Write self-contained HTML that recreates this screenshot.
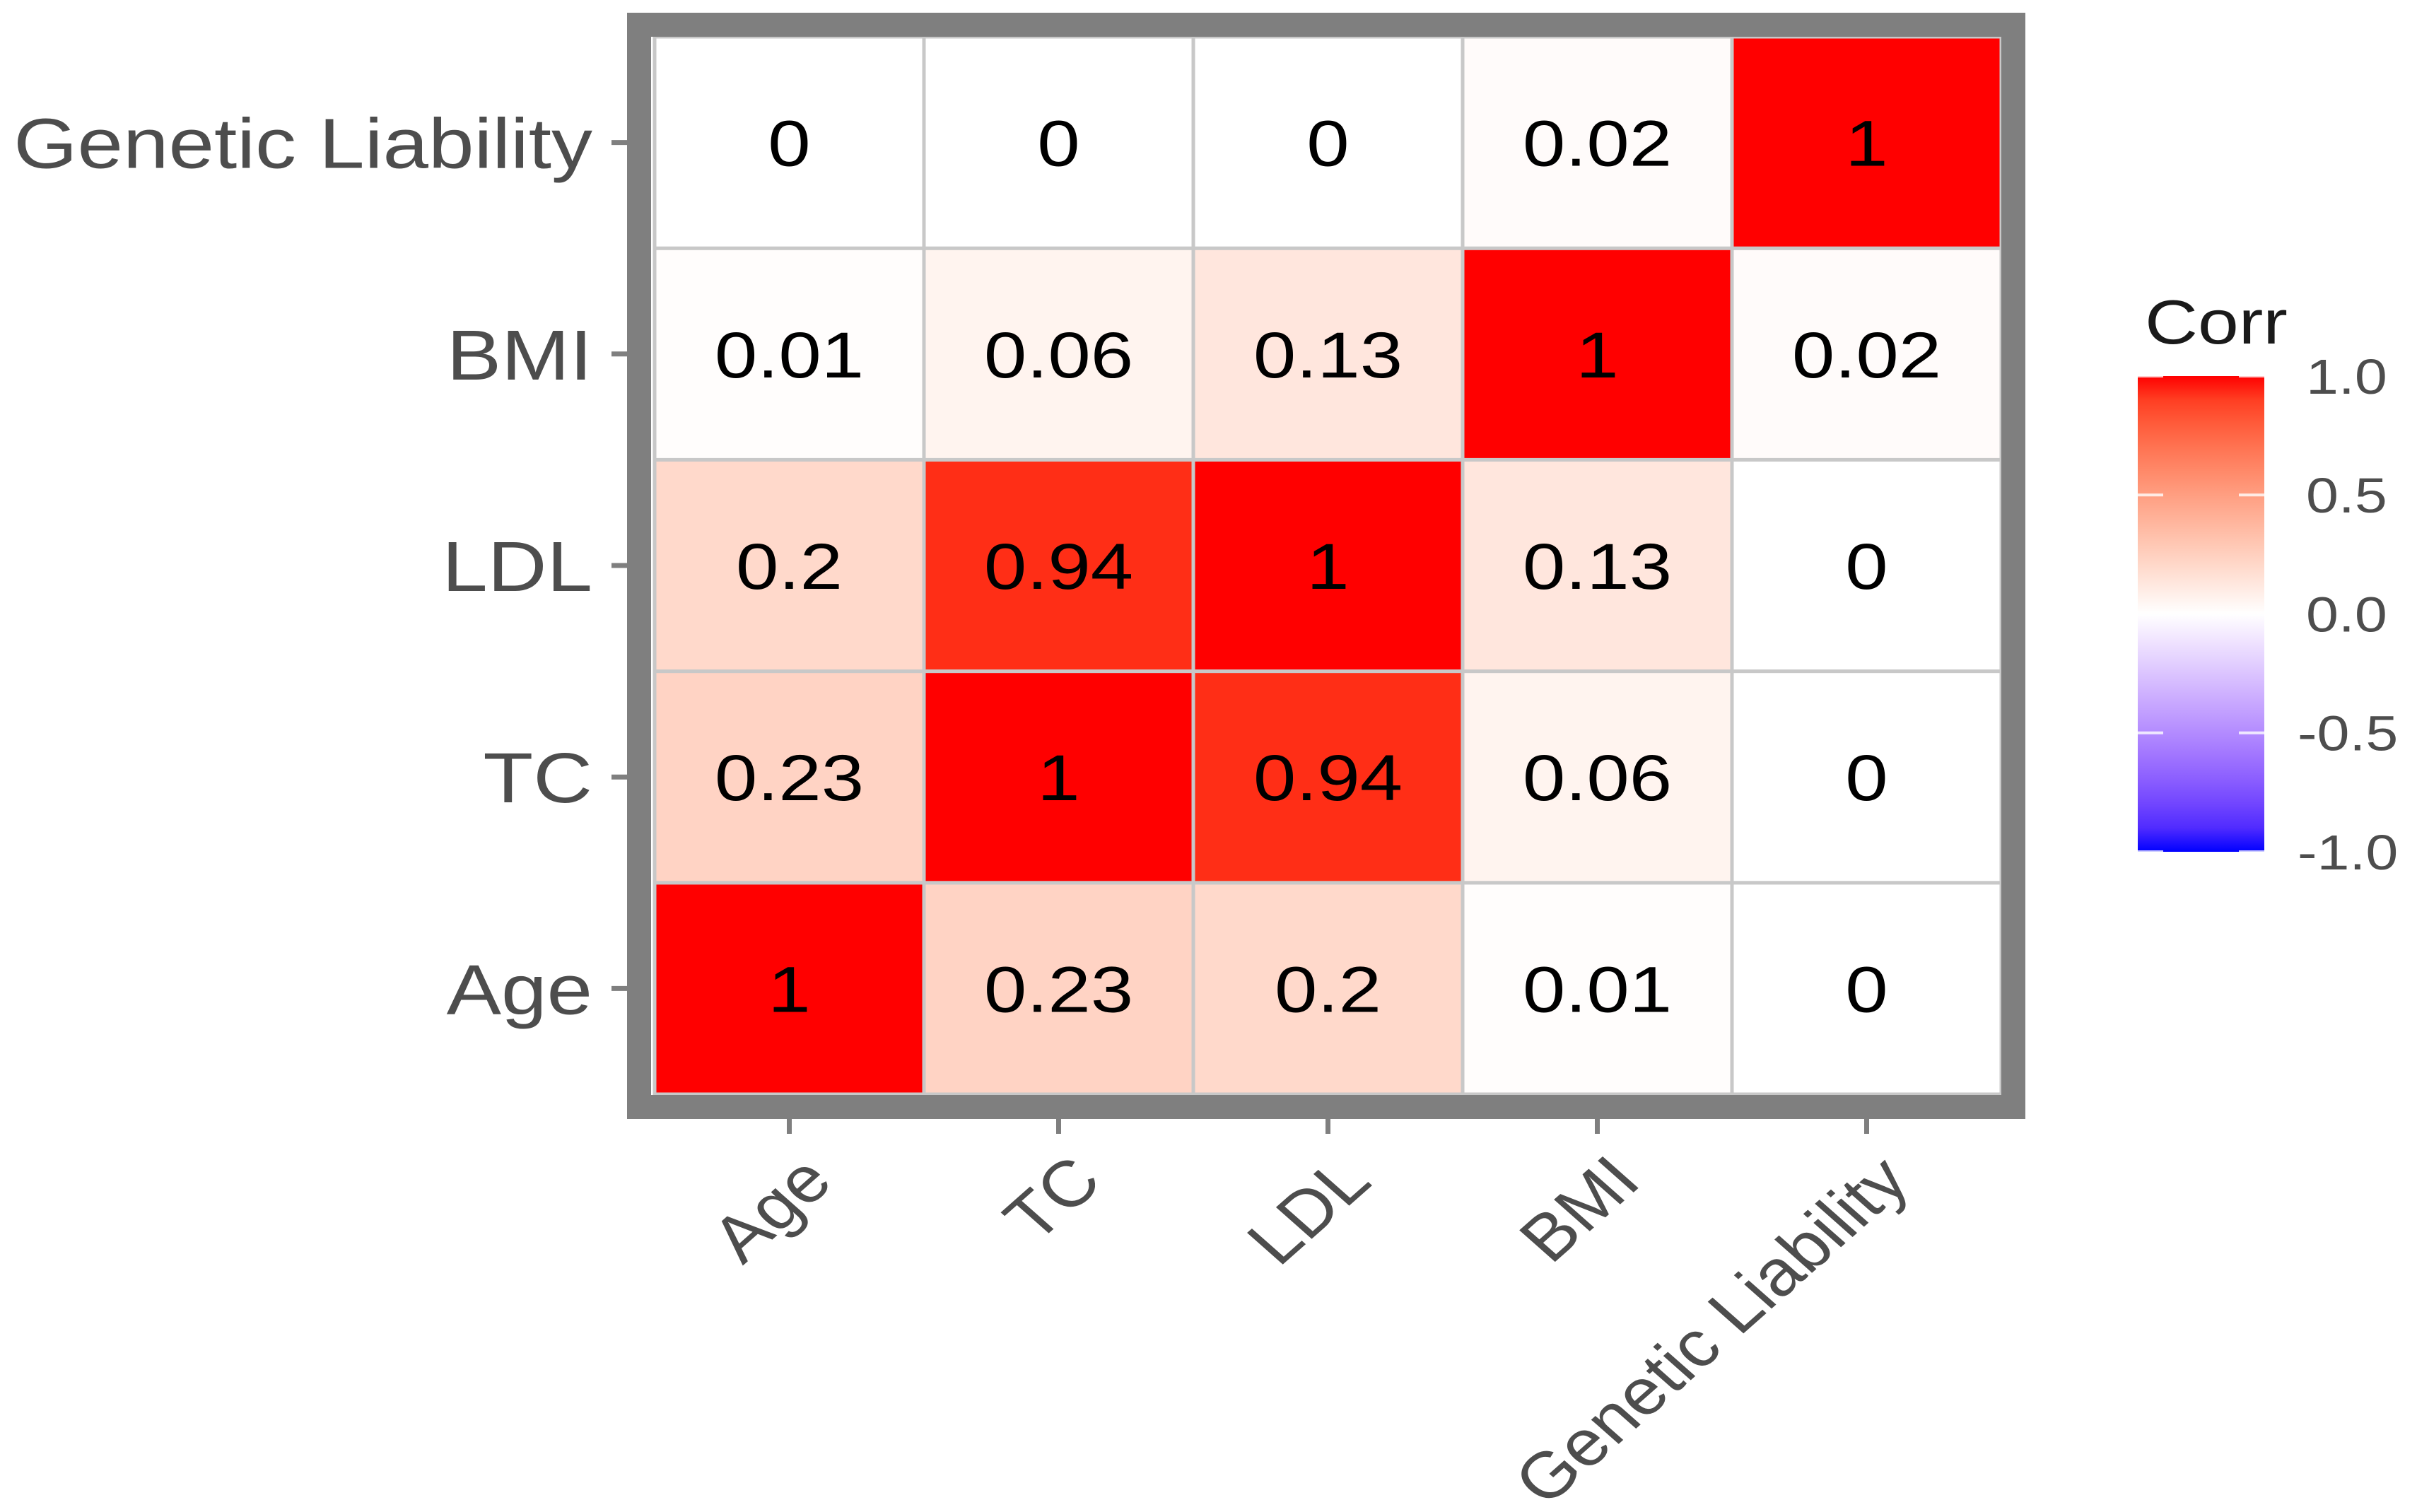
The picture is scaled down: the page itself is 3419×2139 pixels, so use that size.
<!DOCTYPE html>
<html><head><meta charset="utf-8"><style>
html,body{margin:0;padding:0;background:#fff;}
svg{display:block;}
text{font-family:"Liberation Sans",sans-serif;}
</style></head>
<body>
<svg id="chart" width="3419" height="2139" viewBox="0 0 3419 2139" xmlns="http://www.w3.org/2000/svg">
<defs><linearGradient id="cbar" x1="0" y1="1" x2="0" y2="0"></linearGradient></defs>
<rect x="0" y="0" width="3419" height="2139" fill="#fff"/>
<g id="tiles"></g>
<rect x="904" y="35" width="1944" height="1531" fill="none" stroke="#7f7f7f" stroke-width="34"/>
<g id="axes"></g>
<g id="legend">
<text x="3034" y="486" font-size="88" fill="#1a1a1a" transform="translate(3034,0) scale(1.18,1) translate(-3034,0)">Corr</text>
<rect x="3024" y="532" width="179" height="673" fill="url(#cbar)"/>
</g>
</svg>
<script>
const categories = ["Age", "TC", "LDL", "BMI", "Genetic Liability"];
const rowAge = [1, 0.23, 0.2, 0.01, 0];
const rowTC = [0.23, 1, 0.94, 0.06, 0];
const rowLDL = [0.2, 0.94, 1, 0.13, 0];
const rowBMI = [0.01, 0.06, 0.13, 1, 0.02];
const rowGL = [0, 0, 0, 0.02, 1];
const legendTicks = [1.0, 0.5, 0.0, -0.5, -1.0];
const legendTickLabels = ["1.0", "0.5", "0.0", "-0.5", "-1.0"];

const NS = "http://www.w3.org/2000/svg";
const rows = [rowAge, rowTC, rowLDL, rowBMI, rowGL];
const X0 = 926, X1 = 2831, Y0 = 52, Y1 = 1548;
const n = categories.length;
const cw = (X1 - X0) / n, ch = (Y1 - Y0) / n;
const xPos = i => X0 + i * cw;
const yPos = j => Y1 - (j + 1) * ch;
const legendY = v => 532 + (1 - v) / 2 * 673;

function lab2rgb(L, a, b) {
  let y = (L + 16) / 116, x = a / 500 + y, z = y - b / 200;
  const f = t => t * t * t > 0.008856 ? t * t * t : (t - 16 / 116) / 7.787;
  x = 0.95047 * f(x); y = f(y); z = 1.08883 * f(z);
  let r = x * 3.2406 + y * -1.5372 + z * -0.4986;
  let g = x * -0.9689 + y * 1.8758 + z * 0.0415;
  let bb = x * 0.0557 + y * -0.2040 + z * 1.0570;
  const gam = c => { c = c > 0.0031308 ? 1.055 * Math.pow(c, 1 / 2.4) - 0.055 : 12.92 * c; return Math.round(Math.max(0, Math.min(1, c)) * 255); };
  return "rgb(" + gam(r) + "," + gam(g) + "," + gam(bb) + ")";
}
function colorFor(v) {
  const W = [100, 0, 0], R = [53.24, 80.09, 67.2], B = [32.3, 79.19, -107.86];
  const t = Math.abs(v), E = v >= 0 ? R : B;
  return lab2rgb(W[0] + (E[0] - W[0]) * t, W[1] + (E[1] - W[1]) * t, W[2] + (E[2] - W[2]) * t);
}

const tiles = document.getElementById("tiles");
rows.forEach((row, j) => {
  row.forEach((v, i) => {
    const r = document.createElementNS(NS, "rect");
    r.setAttribute("x", xPos(i)); r.setAttribute("y", yPos(j));
    r.setAttribute("width", cw); r.setAttribute("height", ch);
    r.setAttribute("fill", colorFor(v));
    r.setAttribute("stroke", "#c8c8c8"); r.setAttribute("stroke-width", "5");
    
    
    tiles.appendChild(r);
    const cx = xPos(i) + cw / 2, cy = yPos(j) + ch / 2 + 33;
    const t = document.createElementNS(NS, "text");
    t.setAttribute("x", cx); t.setAttribute("y", cy);
    t.setAttribute("text-anchor", "middle"); t.setAttribute("font-size", "92");
    t.setAttribute("fill", "#000");
    t.setAttribute("transform", "translate(" + cx + ",0) scale(1.18,1) translate(" + (-cx) + ",0)");
    t.textContent = String(v);
    
    
    tiles.appendChild(t);
  });
});

const axes = document.getElementById("axes");
categories.forEach((c, k) => {
  const yc = yPos(k) + ch / 2;
  const tk = document.createElementNS(NS, "line");
  tk.setAttribute("x1", 865); tk.setAttribute("x2", 890); tk.setAttribute("y1", yc); tk.setAttribute("y2", yc);
  tk.setAttribute("stroke", "#7f7f7f"); tk.setAttribute("stroke-width", "7");
  
  
  axes.appendChild(tk);
  const yl = document.createElementNS(NS, "text");
  yl.setAttribute("x", 838); yl.setAttribute("y", yc + 36);
  yl.setAttribute("text-anchor", "end"); yl.setAttribute("font-size", "100"); yl.setAttribute("fill", "#4d4d4d");
  yl.setAttribute("transform", "translate(838,0) scale(1.16,1) translate(-838,0)");
  yl.textContent = c;
  
  
  axes.appendChild(yl);
  const xc = xPos(k) + cw / 2;
  const tx = document.createElementNS(NS, "line");
  tx.setAttribute("x1", xc); tx.setAttribute("x2", xc); tx.setAttribute("y1", 1580); tx.setAttribute("y2", 1604);
  tx.setAttribute("stroke", "#7f7f7f"); tx.setAttribute("stroke-width", "7");
  
  
  axes.appendChild(tx);
  const xl = document.createElementNS(NS, "text");
  xl.setAttribute("x", 0); xl.setAttribute("y", 0); xl.setAttribute("dy", "0.72em");
  xl.setAttribute("text-anchor", "end"); xl.setAttribute("font-size", "92"); xl.setAttribute("fill", "#4d4d4d");
  xl.setAttribute("transform", "translate(" + (xc + 12) + ",1628) scale(1.13,1) rotate(-45)");
  xl.textContent = c;
  
  
  axes.appendChild(xl);
});

const grad = document.getElementById("cbar");
for (let s = 0; s <= 20; s++) {
  const v = -1 + s / 10;
  const st = document.createElementNS(NS, "stop");
  st.setAttribute("offset", (s / 20));
  st.setAttribute("stop-color", colorFor(v));
  grad.appendChild(st);
}
const legend = document.getElementById("legend");
legendTicks.forEach((v, k) => {
  const y = legendY(v);
  [[3024, 3060], [3167, 3203]].forEach(p => {
    const l = document.createElementNS(NS, "line");
    l.setAttribute("x1", p[0]); l.setAttribute("x2", p[1]); l.setAttribute("y1", y); l.setAttribute("y2", y);
    l.setAttribute("stroke", "#fff"); l.setAttribute("stroke-width", "4"); l.setAttribute("opacity", "0.8");
    
    
    legend.appendChild(l);
  });
  const t = document.createElementNS(NS, "text");
  const lx = v < 0 ? 3250 : 3262;
  t.setAttribute("x", lx); t.setAttribute("y", y + 25);
  t.setAttribute("font-size", "70"); t.setAttribute("fill", "#4d4d4d");
  t.setAttribute("transform", "translate(" + lx + ",0) scale(1.18,1) translate(" + (-lx) + ",0)");
  t.textContent = legendTickLabels[k];
  
  
  legend.appendChild(t);
});
</script>
</body></html>
